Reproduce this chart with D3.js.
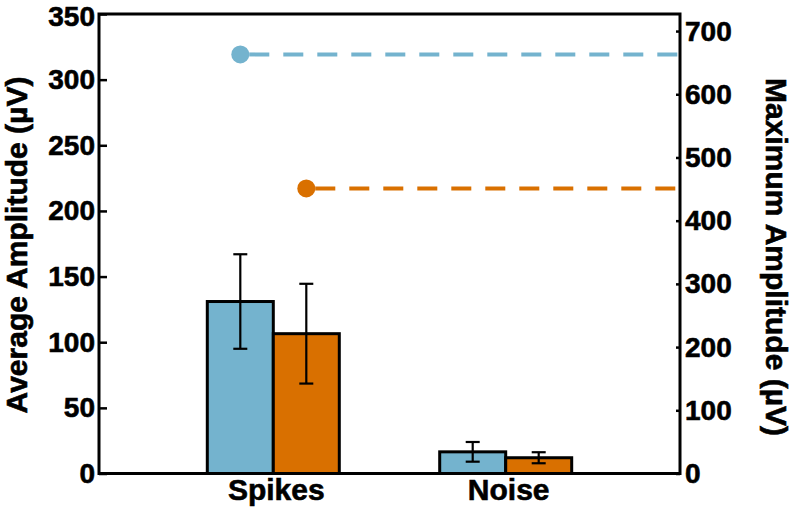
<!DOCTYPE html>
<html>
<head>
<meta charset="utf-8">
<script src="https://cdn.jsdelivr.net/npm/d3@7"></script>
<style>
  body { margin: 0; background: #fff; }
  text { font-family: "Liberation Sans", Arial, sans-serif; font-weight: bold; }
</style>
</head>
<body>
<div class="chart"></div>
<script>
// values
const categories = ["Spikes", "Noise"];
const seriesNames = ["blue", "orange"];
const avgBlue = [131, 16.5];
const errBlue = [36, 7.5];
const avgOrange = [106.5, 12];
const errOrange = [38, 4.2];
const maxAmp = [663, 451]; // blue, orange (right axis)
const leftTicks = [0, 50, 100, 150, 200, 250, 300, 350];
const rightTicks = [0, 100, 200, 300, 400, 500, 600, 700];
const colors = { blue: "#74b3ce", orange: "#d97000" };

var width = 792;
var height = 512;
const plotLeft = 99, plotRight = 680, plotTop = 14, plotBottom = 473.5;

var svg = d3.select(".chart").append("svg")
    .attr("width", width)
    .attr("height", height);

var x = d3.scalePoint().domain(categories).range([plotLeft, plotRight]).padding(0.75);
var xSub = d3.scaleBand().domain(seriesNames).range([-66, 66]);
var y = d3.scaleLinear().domain([0, 350]).range([plotBottom, plotTop]);
var y2 = d3.scaleLinear().domain([0, 727]).range([plotBottom, plotTop]);

// build rows for bars
const rows = [];
categories.forEach((c, i) => {
    rows.push({ cat: c, s: "blue", v: avgBlue[i], e: errBlue[i] });
    rows.push({ cat: c, s: "orange", v: avgOrange[i], e: errOrange[i] });
});

svg.selectAll("rect.bar")
    .data(rows)
    .join("rect")
    .attr("class", "bar")
    .attr("x", d => x(d.cat) + xSub(d.s))
    .attr("width", xSub.bandwidth())
    .attr("y", d => y(d.v))
    .attr("height", d => y(0) - y(d.v))
    .style("fill", d => colors[d.s])
    .style("stroke", "#000")
    .style("stroke-width", 3);

// error bars
const cx = d => x(d.cat) + xSub(d.s) + xSub.bandwidth() / 2;
const eb = svg.append("g").style("stroke", "#000").style("stroke-width", 2.2);
eb.selectAll("line.v").data(rows).join("line")
    .attr("class", "v")
    .attr("x1", cx).attr("x2", cx)
    .attr("y1", d => y(d.v + d.e)).attr("y2", d => y(d.v - d.e));
eb.selectAll("line.t").data(rows).join("line")
    .attr("class", "t")
    .attr("x1", d => cx(d) - 7).attr("x2", d => cx(d) + 7)
    .attr("y1", d => y(d.v + d.e)).attr("y2", d => y(d.v + d.e));
eb.selectAll("line.b").data(rows).join("line")
    .attr("class", "b")
    .attr("x1", d => cx(d) - 7).attr("x2", d => cx(d) + 7)
    .attr("y1", d => y(d.v - d.e)).attr("y2", d => y(d.v - d.e));

// maximum amplitude markers (right axis)
const dotR = 9;
seriesNames.forEach((s, i) => {
    const px = x(categories[0]) + xSub(s) + xSub.bandwidth() / 2;
    const py = y2(maxAmp[i]);
    svg.append("line")
        .attr("x1", px + dotR).attr("x2", plotRight)
        .attr("y1", py).attr("y2", py)
        .style("stroke", colors[s])
        .style("stroke-width", 4)
        .style("stroke-dasharray", "20 14");
    svg.append("line")
        .attr("x1", px).attr("x2", px + dotR)
        .attr("y1", py).attr("y2", py)
        .style("stroke", colors[s])
        .style("stroke-width", 4);
    svg.append("circle")
        .attr("cx", px).attr("cy", py).attr("r", dotR)
        .style("fill", colors[s]);
});

// axes
var yAxis = svg.append("g")
    .attr("transform", `translate(${plotLeft},0)`)
    .call(d3.axisLeft(y).tickValues(leftTicks).tickSizeInner(-8).tickSizeOuter(0).tickPadding(4));
var y2Axis = svg.append("g")
    .attr("transform", `translate(${plotRight},0)`)
    .call(d3.axisRight(y2).tickValues(rightTicks).tickSizeInner(-4).tickSizeOuter(0).tickPadding(5));

[yAxis, y2Axis].forEach(g => {
    g.select(".domain").remove();
    g.selectAll(".tick line").style("stroke", "#000").style("stroke-width", 2.5);
    g.selectAll(".tick text")
        .attr("font-size", 28)
        .attr("font-family", "Liberation Sans, Arial, sans-serif")
        .attr("font-weight", "bold")
        .attr("fill", "#000")
        .style("stroke", "#000")
        .style("stroke-width", 0.6);
});
// top label sits against the frame edge; nudge it so it stays inside the page
yAxis.selectAll(".tick text").filter(d => d === 350).attr("dy", "0.42em");

// frame
svg.append("rect")
    .attr("x", plotLeft).attr("y", plotTop)
    .attr("width", plotRight - plotLeft).attr("height", plotBottom - plotTop)
    .style("fill", "none")
    .style("stroke", "#000")
    .style("stroke-width", 3);

// category labels
svg.selectAll("text.cat")
    .data(categories)
    .join("text")
    .attr("class", "cat")
    .attr("x", d => x(d) + 3)
    .attr("y", 500)
    .attr("text-anchor", "middle")
    .attr("font-size", 30)
    .style("stroke", "#000")
    .style("stroke-width", 0.6)
    .text(d => d);

// axis titles
svg.append("text")
    .attr("transform", "translate(27,245) rotate(-90)")
    .attr("text-anchor", "middle")
    .attr("font-size", 30)
    .style("stroke", "#000")
    .style("stroke-width", 0.6)
    .text("Average Amplitude (µV)");

svg.append("text")
    .attr("transform", "translate(766,257) rotate(90)")
    .attr("text-anchor", "middle")
    .attr("font-size", 30)
    .style("stroke", "#000")
    .style("stroke-width", 0.6)
    .text("Maximum Amplitude (µV)");
</script>
</body>
</html>
